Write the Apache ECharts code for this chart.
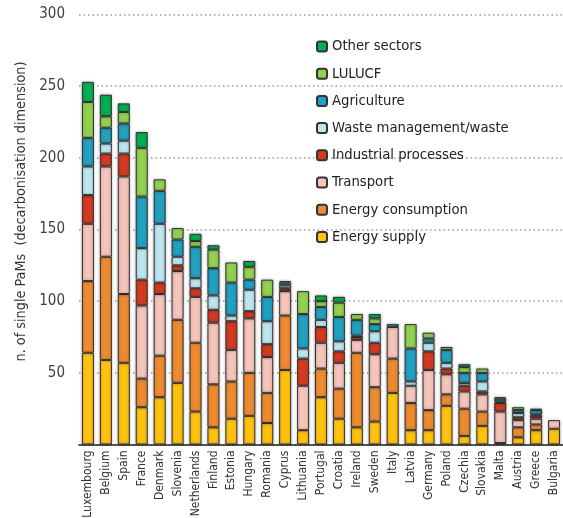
<!DOCTYPE html>
<html>
<head>
<meta charset="utf-8">
<script src="https://cdn.jsdelivr.net/npm/echarts@6/dist/echarts.min.js"></script>
<style>
  html, body { margin: 0; padding: 0; background: #fff; }
  #main { width: 563px; height: 518px; }
</style>
</head>
<body>
<div id="main"></div>
<script>
var countries = ['Luxembourg', 'Belgium', 'Spain', 'France', 'Denmark', 'Slovenia', 'Netherlands', 'Finland', 'Estonia',
    'Hungary', 'Romania', 'Cyprus', 'Lithuania', 'Portugal', 'Croatia', 'Ireland', 'Sweden', 'Italy', 'Latvia',
    'Germany', 'Poland', 'Czechia', 'Slovakia', 'Malta', 'Austria', 'Greece', 'Bulgaria'];

var energySupply      = [64, 59, 57, 26, 33, 43, 23, 12, 18, 20, 15, 52, 10, 33, 18, 12, 16, 36, 10, 10, 27, 6, 13, 1, 5, 10, 11];
var energyConsumption = [50, 72, 48, 20, 29, 44, 48, 30, 26, 30, 21, 38, 0, 20, 21, 52, 24, 24, 19, 14, 8, 19, 10, 0, 7, 4, 0];
var transport         = [40, 63, 82, 51, 43, 34, 32, 43, 22, 38, 25, 17, 31, 18, 18, 9, 23, 22, 12, 28, 14, 12, 12, 22, 5, 4, 6];
var industrial        = [20, 9, 16, 18, 8, 4, 6, 9, 20, 5, 9, 2, 19, 11, 8, 2, 8, 0, 0, 13, 4, 4, 2, 6, 2, 2, 0];
var waste             = [20, 7, 9, 22, 41, 6, 7, 10, 4, 15, 16, 2, 7, 5, 7, 1, 8, 0, 3, 6, 4, 2, 7, 1, 3, 1, 0];
var agriculture       = [20, 11, 12, 36, 23, 12, 22, 19, 23, 7, 17, 2, 24, 9, 17, 11, 5, 2, 23, 3, 9, 7, 6, 2, 2, 3, 0];
var lulucf            = [25, 8, 8, 34, 8, 8, 4, 13, 14, 9, 12, 0, 16, 4, 10, 4, 4, 0, 17, 4, 2, 4, 3, 0, 2, 0, 0];
var otherSectors      = [14, 15, 6, 11, 0, 0, 5, 3, 0, 4, 0, 1, 0, 4, 4, 0, 3, 0, 0, 0, 0, 2, 0, 1, 0, 1, 0];

var sectorNames = ['Energy supply', 'Energy consumption', 'Transport', 'Industrial processes',
    'Waste management/waste', 'Agriculture', 'LULUCF', 'Other sectors'];
var sectorValues = [energySupply, energyConsumption, transport, industrial, waste, agriculture, lulucf, otherSectors];
var sectorColors = ['#ffc20e', '#ee8b30', '#f5c4bb', '#d33a20', '#bde6f0', '#22a0c0', '#93d150', '#00b050'];

var font = 'DejaVu Sans Condensed';

var series = sectorNames.map(function(name, i) {
    return {
        name: name,
        type: 'bar',
        stack: 'total',
        barWidth: '67%',
        itemStyle: {
            color: sectorColors[i],
            borderColor: '#333',
            borderWidth: 1,
            shadowBlur: 3,
            shadowColor: 'rgba(0, 0, 0, 0.35)'
        },
        data: sectorValues[i].map(function(v) { return v === 0 ? '-' : v; })
    };
});

var option = {
    backgroundColor: '#fff',
    animation: false,
    textStyle: { fontFamily: font },
    grid: { left: 79, right: 0, top: 14.5, bottom: 73.5, containLabel: false, outerBoundsMode: 'none' },
    legend: {
        data: sectorNames.slice().reverse(),
        orient: 'vertical',
        left: 311,
        top: 34,
        itemWidth: 10,
        itemHeight: 10,
        itemGap: 12.2,
        textStyle: { fontFamily: font, fontSize: 14.7, color: '#222' }
    },
    xAxis: {
        type: 'category',
        data: countries,
        axisLine: { lineStyle: { color: '#222', width: 1.5 } },
        axisTick: { show: false },
        axisLabel: { rotate: 90, interval: 0, margin: 6, fontSize: 12, color: '#333', fontFamily: font }
    },
    yAxis: {
        type: 'value',
        min: 0,
        max: 300,
        interval: 50,
        name: 'n. of single PaMs  (decarbonisation dimension)',
        nameLocation: 'middle',
        nameGap: 50,
        nameTextStyle: { fontSize: 14.3, color: '#333', fontFamily: font, padding: [0, 0, 0, 36] },
        axisLine: { show: false },
        axisTick: { show: false },
        axisLabel: { showMinLabel: false, margin: 14, fontSize: 15, color: '#404040', fontFamily: font },
        splitLine: { lineStyle: { color: '#999', width: 1.5, type: [1.5, 3] } }
    },
    series: series
};

var myChart = echarts.init(document.getElementById('main'));
myChart.setOption(option);
</script>
</body>
</html>
